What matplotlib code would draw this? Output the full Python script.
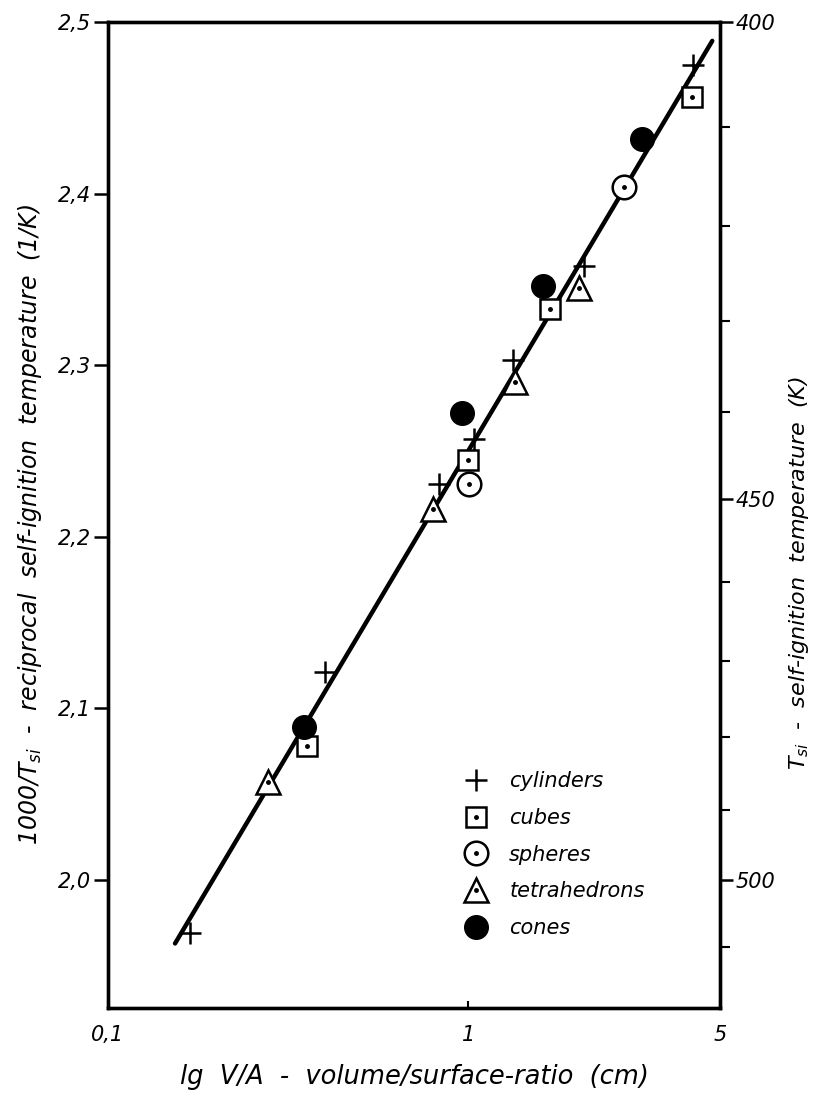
import matplotlib
matplotlib.use("Agg")
import matplotlib.pyplot as plt
from matplotlib.ticker import FixedLocator, NullFormatter, NullLocator
import numpy as np

plt.rcParams["font.family"] = "DejaVu Sans"
plt.rcParams["mathtext.fontset"] = "custom"
plt.rcParams["mathtext.it"] = "DejaVu Sans:italic"
plt.rcParams["mathtext.rm"] = "DejaVu Sans:italic"

# data (x: V/A in cm, y: 1000/T_si in 1/K)
cyl_x = [0.169, 0.401, 0.83, 1.04, 1.33, 2.10, 4.22]
cyl_y = [1.969, 2.121, 2.231, 2.257, 2.303, 2.358, 2.475]

cube_x = [0.357, 1.00, 1.69, 4.19]
cube_y = [2.078, 2.245, 2.333, 2.456]

sph_x = [1.007, 2.70]
sph_y = [2.231, 2.404]

tet_x = [0.278, 0.80, 1.35, 2.03]
tet_y = [2.057, 2.216, 2.290, 2.345]

cone_x = [0.350, 0.962, 1.61, 3.04]
cone_y = [2.089, 2.272, 2.346, 2.432]

fit_x = [0.1535, 4.76]
fit_y = [1.963, 2.489]

left_ticks = [2.0, 2.1, 2.2, 2.3, 2.4, 2.5]
left_labels = ["2,0", "2,1", "2,2", "2,3", "2,4", "2,5"]
x_ticks = [0.1, 1, 5]
x_labels = ["0,1", "1", "5"]
temp_major = [400, 450, 500]
temp_minor = [410, 420, 430, 440, 460, 470, 480, 490, 510]

fig = plt.figure(figsize=(8.25, 10.94), dpi=100)
ax = fig.add_axes([0.1309, 0.0786, 0.7418, 0.9013])

ax.plot(fit_x, fit_y, color="black", linewidth=3.2, solid_capstyle="round", zorder=2)

ms = 17
ax.plot(cyl_x, cyl_y, ls="none", marker="+", ms=16, mew=1.8, color="black", zorder=3)
ax.plot(cube_x, cube_y, ls="none", marker="s", ms=14, mew=1.8, mfc="white", mec="black", zorder=3)
ax.plot(sph_x, sph_y, ls="none", marker="o", ms=ms, mew=1.8, mfc="white", mec="black", zorder=3)
ax.plot(tet_x, tet_y, ls="none", marker="^", ms=ms, mew=1.8, mfc="white", mec="black", zorder=3)
ax.plot(cone_x, cone_y, ls="none", marker="o", ms=ms, color="black", zorder=4)
# centre dots of the open symbols
for xs, ys in [(cube_x, cube_y), (sph_x, sph_y), (tet_x, tet_y)]:
    ax.plot(xs, ys, ls="none", marker="o", ms=2.5, color="black", zorder=5)

ax.set_xscale("log")
ax.set_xlim(0.1, 5)
ax.set_ylim(1.9254, 2.5)

ax.xaxis.set_major_locator(FixedLocator(x_ticks))
ax.xaxis.set_minor_locator(NullLocator())
ax.set_xticklabels(x_labels)
ax.set_yticks(left_ticks)
ax.set_yticklabels(left_labels)

for t in ax.get_xticklabels() + ax.get_yticklabels():
    t.set_fontstyle("italic")
    t.set_fontsize(15)
ax.tick_params(axis="y", direction="out", length=10, width=1.8, pad=2)
ax.tick_params(axis="x", direction="in", length=5, width=1.5, pad=12)

for s in ax.spines.values():
    s.set_linewidth(2.4)

# right axis: self-ignition temperature in K, placed at 1000/T
ax2 = ax.twinx()
ax2.set_ylim(ax.get_ylim())
ax2.yaxis.set_major_locator(FixedLocator([1000 / t for t in temp_major]))
ax2.yaxis.set_minor_locator(FixedLocator([1000 / t for t in temp_minor]))
ax2.set_yticklabels([str(t) for t in temp_major])
ax2.yaxis.set_minor_formatter(NullFormatter())
for t in ax2.get_yticklabels():
    t.set_fontstyle("italic")
    t.set_fontsize(15)
ax2.tick_params(axis="y", which="major", direction="out", length=9, width=1.8, pad=2)
ax2.tick_params(axis="y", which="minor", direction="out", length=7, width=1.5)
for s in ax2.spines.values():
    s.set_linewidth(2.4)

ax.set_xlabel("lg  V/A  -  volume/surface-ratio  (cm)", fontsize=18.5, fontstyle="italic")
ax.xaxis.set_label_coords(0.50, -0.057)
ax.set_ylabel("1000/$T_{si}$  -  reciprocal  self-ignition  temperature  (1/K)",
              fontsize=17, fontstyle="italic")
ax.yaxis.set_label_coords(-0.105, 0.49)
ax2.set_ylabel("$T_{si}$  -  self-ignition  temperature  (K)", fontsize=16, fontstyle="italic")
ax2.yaxis.set_label_coords(1.11, 0.441)

# legend
h_cyl, = ax.plot([], [], ls="none", marker="+", ms=16, mew=1.8, color="black")
h_cube = (ax.plot([], [], ls="none", marker="s", ms=14, mew=1.8, mfc="white", mec="black")[0],
          ax.plot([], [], ls="none", marker="o", ms=2.5, color="black")[0])
h_sph = (ax.plot([], [], ls="none", marker="o", ms=ms, mew=1.8, mfc="white", mec="black")[0],
         ax.plot([], [], ls="none", marker="o", ms=2.5, color="black")[0])
h_tet = (ax.plot([], [], ls="none", marker="^", ms=ms, mew=1.8, mfc="white", mec="black")[0],
         ax.plot([], [], ls="none", marker="o", ms=2.5, color="black")[0])
h_cone, = ax.plot([], [], ls="none", marker="o", ms=ms, color="black")

leg = ax.legend([h_cyl, h_cube, h_sph, h_tet, h_cone],
                ["cylinders", "cubes", "spheres", "tetrahedrons", "cones"],
                loc="upper left", bbox_to_anchor=(0.55, 0.259), frameon=False,
                handlelength=1.2, handletextpad=1.0, labelspacing=0.8,
                prop=dict(size=15, style="italic"))

fig.savefig("out.png", dpi=100)
